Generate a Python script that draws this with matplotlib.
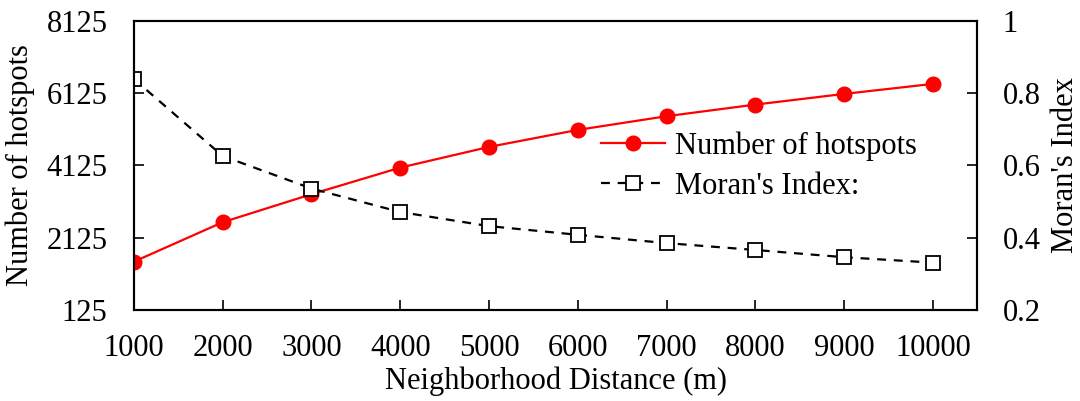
import numpy as np
import matplotlib
matplotlib.use("Agg")
import matplotlib.pyplot as plt

plt.rcParams['font.family'] = ['Liberation Serif', 'DejaVu Serif']

# Daten
distanz = [1000, 2000, 3000, 4000, 5000, 6000, 7000, 8000, 9000, 10000]
hotspots = [1462, 2553, 3328, 4064, 4637, 5108, 5487, 5808, 6104, 6381]
moran = [0.839, 0.626, 0.536, 0.471, 0.432, 0.408, 0.385, 0.366, 0.346, 0.331]

links_ticks = [125, 2125, 4125, 6125, 8125]
rechts_ticks = [0.2, 0.4, 0.6, 0.8, 1.0]
rechts_labels = ["0.2", "0.4", "0.6", "0.8", "1"]

fig = plt.figure(figsize=(10.8, 4.01), dpi=100)
ax = fig.add_axes([0.124, 0.227, 0.781, 0.721])
ax2 = ax.twinx()

l1, = ax.plot(distanz, hotspots, color='red', lw=1.6, marker='o', ms=10.5,
              label='Number of hotspots')
l2, = ax2.plot(distanz, moran, color='black', lw=1.6, ls=(0, (4, 3.5)), marker='s',
               ms=9.5, mfc='white', mec='black', mew=1.3, label="Moran's Index:")

ax.set_xlim(1000, 10500)
ax.set_ylim(125, 8125)
ax2.set_ylim(0.2, 1.0)
ax.set_xticks(distanz)
ax.set_yticks(links_ticks)
ax2.set_yticks(rechts_ticks)
ax2.set_yticklabels(rechts_labels)

fs = 22
ax.tick_params(axis='x', direction='in', length=7, width=1.2, labelsize=fs, pad=17)
ax.tick_params(axis='y', direction='in', length=7, width=1.2, labelsize=fs, pad=19)
ax2.tick_params(axis='y', direction='in', length=7, width=1.2, labelsize=fs, pad=18)
for a in (ax, ax2):
    for s in a.spines.values():
        s.set_linewidth(1.5)

ax.set_xlabel('Neighborhood Distance (m)', fontsize=fs)
ax.set_ylabel('Number of hotspots', fontsize=fs)
ax2.set_ylabel("Moran's Index", fontsize=fs)
ax.xaxis.set_label_coords(0.5, -0.197)
ax.yaxis.set_label_coords(-0.117, 0.5)
ax2.yaxis.set_label_coords(1.087, 0.5)

ax.legend(handles=[l1, l2], loc='center left', bbox_to_anchor=(0.554, 0.497),
          frameon=False, fontsize=fs, handlelength=2.1, handletextpad=0.3,
          labelspacing=0.35, borderaxespad=0, borderpad=0)

fig.savefig('out.png', dpi=100)
